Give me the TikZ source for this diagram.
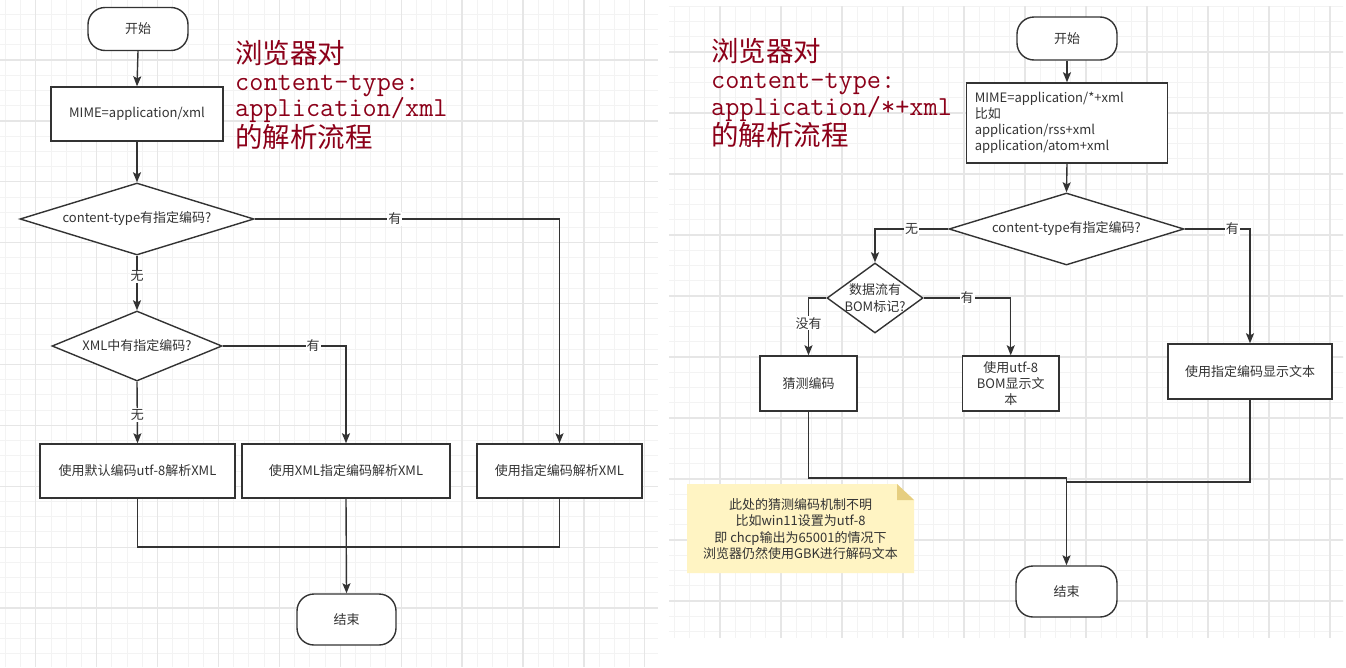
\documentclass[tikz,border=0pt]{standalone}
\usepackage{fontspec}
\setmainfont{Noto Sans CJK SC}
\usetikzlibrary{arrows.meta,shapes.geometric}
\definecolor{ink}{HTML}{333333}
\definecolor{titlered}{RGB}{140,0,25}
\definecolor{notefill}{HTML}{FFF4C3}
\definecolor{notefold}{HTML}{E6CE80}
\definecolor{gridminor}{HTML}{F3F3F3}
\definecolor{gridmajor}{HTML}{E6E6E6}
\begin{document}
\begin{tikzpicture}[x=1pt,y=-1pt,
  every node/.style={font=\fontsize{13}{16}\selectfont, text=ink},
  conn/.style={draw=ink, line width=1.4pt},
  arr/.style={conn, -{Stealth[length=10pt,width=8pt,inset=2pt]}},
  term/.style={draw=ink, line width=1.4pt, rounded corners=17pt, fill=white, inner sep=0pt},
  proc/.style={draw=ink, line width=1.4pt, fill=white, inner sep=2pt, align=center},
  decision/.style={diamond, draw=ink, line width=1.4pt, fill=white, inner sep=0pt, align=center},
  lbl/.style={fill=white, inner sep=1pt},
  titlecjk/.style={anchor=base west, text=titlered, inner sep=0pt, text height=21pt, text depth=2pt, font=\fontsize{27.5}{27.5}\selectfont},
  titlelat/.style={anchor=base west, text=titlered, inner sep=0pt, text depth=0pt, text height=16pt, font=\ttfamily\fontsize{27.5}{27.5}\selectfont},
  gminor/.style={draw=gridminor, line width=1pt},
  gmajor/.style={draw=gridmajor, line width=1.3pt}
]
\useasboundingbox[fill=white] (0,0) rectangle (1346,667);
% ---------- grids ----------
\begin{scope}
  \clip (0,0) rectangle (658,667);
  \foreach \k in {-2,...,41} \draw[gminor] ({35.8+15.225*\k},0) -- ++(0,667);
  \foreach \k in {0,...,44} \draw[gminor] (0,{-0.9+15.225*\k}) -- ++(658,0);
  \foreach \k in {0,...,10} \draw[gmajor] ({35.8+60.9*\k},0) -- ++(0,667);
  \foreach \k in {0,...,11} \draw[gmajor] (0,{-0.9+60.9*\k}) -- ++(658,0);
\end{scope}
\begin{scope}
  \clip (669,6) rectangle (1343,637);
  \foreach \k in {-4,...,41} \draw[gminor] ({720+15.25*\k},0) -- ++(0,667);
  \foreach \k in {0,...,43} \draw[gminor] (660,{-9+15.25*\k}) -- ++(690,0);
  \foreach \k in {-1,...,10} \draw[gmajor] ({720+61*\k},0) -- ++(0,667);
  \foreach \k in {0,...,11} \draw[gmajor] (660,{-9+61*\k}) -- ++(690,0);
\end{scope}
% ---------- titles ----------
\node[titlecjk] (tla) at (235,63.5) {浏览器对};
\node[titlelat] (tlb) at (235,90.5) {content-type:};
\node[titlelat] (tlc) at (235,116.5) {application/xml};
\node[titlecjk] (tld) at (235,147) {的解析流程};
\node[titlecjk] (tra) at (711,61) {浏览器对};
\node[titlelat] (trb) at (711,88.5) {content-type:};
\node[titlelat] (trc) at (711,115) {application/*+xml};
\node[titlecjk] (trd) at (711,145.5) {的解析流程};
% ---------- left flowchart ----------
\node[term, minimum width=100pt, minimum height=43pt] (s1) at (138,29) {开始};
\node[proc, minimum width=172pt, minimum height=54pt] (m1) at (137,114) {MIME=application/xml};
\node[decision, aspect=3.25, minimum width=234pt, minimum height=72pt] (d1) at (137,219) {content-type有指定编码?};
\node[decision, aspect=2.43, minimum width=170pt, minimum height=70pt] (d2) at (137,346) {XML中有指定编码?};
\node[proc, minimum width=195pt, minimum height=54pt] (b1) at (137.5,471) {使用默认编码utf-8解析XML};
\node[proc, minimum width=208pt, minimum height=54pt] (b2) at (346,471) {使用XML指定编码解析XML};
\node[proc, minimum width=165pt, minimum height=54pt] (b3) at (559.5,471) {使用指定编码解析XML};
\node[term, minimum width=99pt, minimum height=51pt] (e1) at (346.5,619.5) {结束};
\coordinate (mg) at (0,547);
\draw[arr] (s1.south) -- (m1.north);
\draw[arr] (m1.south) -- (d1.north);
\draw[arr] (d1.east) -| node[lbl,pos=0.23]{有} (b3.north);
\draw[arr] (d1.south) -- node[lbl,pos=0.375]{无} (d2.north);
\draw[arr] (d2.east) -| node[lbl,pos=0.367]{有} (b2.north);
\draw[arr] (d2.south) -- node[lbl,pos=0.54]{无} (b1.north);
\draw[conn] (b1.south) -- (b1.south |- mg) -- (b3.south |- mg) -- (b3.south);
\draw[arr] (b2.south) -- (e1.north);
% ---------- right flowchart ----------
\node[term, minimum width=100pt, minimum height=43pt] (s2) at (1067,38.5) {开始};
\node[proc, align=left, text width=184.5pt, inner xsep=8.5pt, inner ysep=0pt, minimum height=80pt] (m2) at (1067,123)
  {MIME=application/*+xml\\比如\\application/rss+xml\\application/atom+xml};
\node[decision, aspect=3.26, minimum width=235pt, minimum height=72pt] (rd1) at (1066.5,229) {content-type有指定编码?};
\node[decision, aspect=1.37, minimum width=96pt, minimum height=70pt,
  label={[align=center, text=ink, font=\fontsize{13}{17}\selectfont]center:数据流有\\BOM标记?}] (rd2) at (875,298) {};
\node[proc, minimum width=97pt, minimum height=55pt] (gs) at (808.5,383.5) {猜测编码};
\node[proc, minimum width=96.5pt, minimum height=55pt] (bm) at (1010.75,383.5) {使用utf-8\\BOM显示文\\本};
\node[proc, minimum width=164pt, minimum height=55pt] (sp) at (1250,371.5) {使用指定编码显示文本};
\node[term, minimum width=101pt, minimum height=51pt] (e2) at (1066.5,591.5) {结束};
\coordinate (jl) at (0,478);
\coordinate (jr) at (0,482);
\draw[arr] (s2.south) -- (m2.north);
\draw[arr] (m2.south) -- (rd1.north);
\draw[arr] (rd1.west) -| node[lbl,pos=0.25]{无} (rd2.north);
\draw[arr] (rd1.east) -| node[lbl,pos=0.364]{有} (sp.north);
\draw[arr] (rd2.east) -| node[lbl,pos=0.25]{有} (bm.north);
\draw[arr] (rd2.west) -| node[lbl,pos=0.72]{没有} (gs.north);
\draw[conn] (sp.south) |- (e2.north |- jr);
\draw[arr] (gs.south) |- (e2.north |- jl) -- (e2.north);
% ---------- note ----------
\fill[notefill] (687,484) -- (897,484) -- (914,500) -- (914,573) -- (687,573) -- cycle;
\fill[notefold] (897,484) -- (897,500) -- (914,500) -- cycle;
\node[align=center, inner sep=0pt, font=\fontsize{13}{16.5}\selectfont] (nt) at (800.5,529)
  {此处的猜测编码机制不明\\比如win11设置为utf-8\\即 chcp输出为65001的情况下\\浏览器仍然使用GBK进行解码文本};
\end{tikzpicture}
\end{document}
